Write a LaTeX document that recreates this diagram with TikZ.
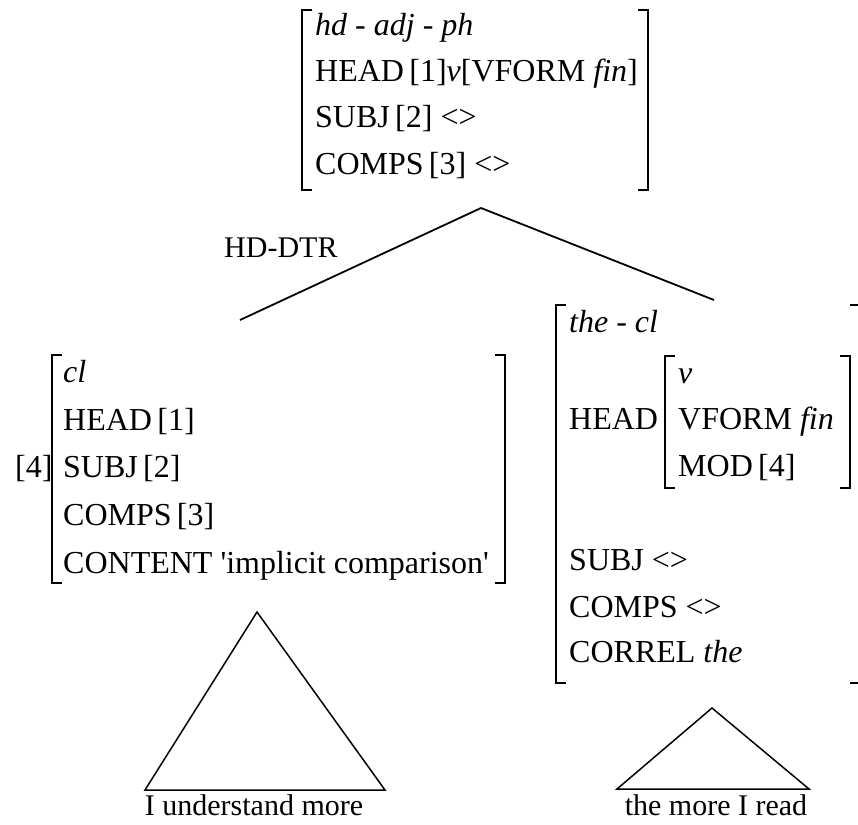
\documentclass[tikz,border=0pt]{standalone}
\usepackage{fontspec}
\setmainfont{Liberation Serif}

\begin{document}
\begin{tikzpicture}[x=1pt, y=-1pt,
    avm/.style={anchor=base west, inner sep=0pt, font=\fontsize{32}{38}\selectfont},
    lbl/.style={inner sep=0pt, font=\fontsize{30}{36}\selectfont},
    brk/.style={line width=1.4pt},
    branch/.style={line width=1.8pt},
    tri/.style={line width=1.5pt, line join=miter}]
        \useasboundingbox (0,0) rectangle (858,824);

        % Mother AVM
        \node[avm] (M1) at (315,36) {\textit{hd - adj - ph}};
        \node[avm] (M2) at (315,82) {HEAD\,[1]\textit{v}[VFORM \textit{fin}]};
        \node[avm] (M3) at (315,128) {SUBJ\,[2] <>};
        \node[avm] (M4) at (315,174) {COMPS\,[3] <>};
        \draw[brk] (312,10) -- (302,10) -- (302,190) -- (312,190);
        \draw[brk] (638,10) -- (648,10) -- (648,190) -- (638,190);

        % Head daughter AVM
        \node[avm] (L0) at (15,477) {[4]};
        \node[avm] (L1) at (63,382) {\textit{cl}};
        \node[avm] (L2) at (63,430) {HEAD\,[1]};
        \node[avm] (L3) at (63,477) {SUBJ\,[2]};
        \node[avm] (L4) at (63,525) {COMPS\,[3]};
        \node[avm] (L5) at (63,573) {CONTENT \textquotesingle implicit comparison\textquotesingle};
        \draw[brk] (62,355) -- (52,355) -- (52,583) -- (62,583);
        \draw[brk] (495,355) -- (505,355) -- (505,583) -- (495,583);

        % Non-head daughter AVM
        \node[avm] (R1) at (569,332) {\textit{the - cl}};
        \node[avm] (R2) at (569,429) {HEAD};
        \node[avm] (H1) at (678,383) {\textit{v}};
        \node[avm] (H2) at (678,429) {VFORM \textit{fin}};
        \node[avm] (H3) at (678,476) {MOD\,[4]};
        \node[avm] (R3) at (569,570) {SUBJ <>};
        \node[avm] (R4) at (569,617) {COMPS <>};
        \node[avm] (R5) at (569,662) {CORREL \textit{the}};
        \draw[brk] (566,305) -- (556,305) -- (556,683) -- (566,683);
        \draw[brk] (850,305) -- (858,305);
        \draw[brk] (850,683) -- (858,683);
        \draw[brk] (675,356) -- (665,356) -- (665,488) -- (675,488);
        \draw[brk] (840,356) -- (850,356) -- (850,488) -- (840,488);

        % Branches
        \coordinate (mtop) at (481,208);
        \coordinate (ldtr) at (240,320);
        \coordinate (rdtr) at (714,300);
        \draw[branch] (mtop) -- (ldtr);
        \draw[branch] (mtop) -- (rdtr);
        \node[lbl, anchor=base west] (hd) at (224,257) {HD-DTR};

        % Triangles
        \coordinate (lapex) at (257,612);
        \coordinate (lleft) at (145,790);
        \coordinate (lright) at (385,790);
        \coordinate (rapex) at (712,708);
        \coordinate (rleft) at (617,789);
        \coordinate (rright) at (809,789);
        \draw[tri] (lapex) -- (lleft) -- (lright) -- cycle;
        \draw[tri] (rapex) -- (rleft) -- (rright) -- cycle;
        \node[lbl, anchor=base] (lyield) at (254,815) {I understand more};
        \node[lbl, anchor=base] (ryield) at (716,815) {the more I read};
\end{tikzpicture}
\end{document}
